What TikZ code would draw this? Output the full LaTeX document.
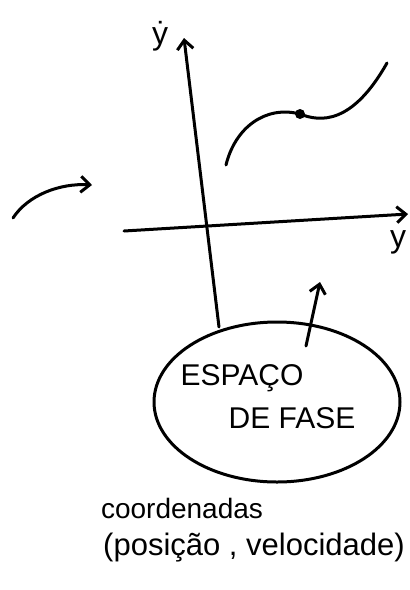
\documentclass[tikz,border=0pt]{standalone}
\usepackage{fontspec}
\setmainfont{Liberation Sans}
\usetikzlibrary{arrows.meta,shapes.geometric}
\begin{document}
\begin{tikzpicture}[x=1pt,y=-1pt,
  ink/.style={line width=3pt,line cap=round,line join=round},
  tip/.style={-{Straight Barb[length=9pt,width=16pt,line width=3pt]}},
  lbl/.style={font=\fontsize{32}{34}\selectfont},
  pstxt/.style={font=\fontsize{30}{32}\selectfont}]
\useasboundingbox (0,0) rectangle (410,590);
% phase space ellipse
\node[ink,draw,ellipse,minimum width=246pt,minimum height=160pt,inner sep=0pt] (ps) at (277,402) {};
\node[pstxt] (esp) at (242,378) {ESPAÇO};
\node[pstxt] (fase) at (292,418) {DE FASE};
% axes
\coordinate (vbot) at (219,327);
\coordinate (vtop) at (184,38);
\draw[ink,tip] (vbot) -- (vtop);
\coordinate (hleft) at (124,231);
\coordinate (hright) at (408,214);
\draw[ink,tip] (hleft) -- (hright);
\node[lbl] (ydot) at (160,36) {\.{y}};
\node[lbl] (ylab) at (398,242) {y};
% curve with point
\coordinate (c0) at (226,165);
\coordinate (cp) at (300,114);
\coordinate (c1) at (387,63);
\draw[ink] (c0) .. controls (235,128) and (265,105) .. (cp)
  .. controls (320,122) and (352,125) .. (c1);
\fill (cp) circle (5pt);
% left arrow
\coordinate (la0) at (13,218);
\coordinate (la1) at (92,185);
\draw[ink,tip] (la0) .. controls (28,195) and (60,183) .. (la1);
% arrow out of ellipse
\coordinate (ua0) at (306,346);
\coordinate (ua1) at (320,282);
\draw[ink,tip] (ua0) -- (ua1);
% captions
\node[font=\fontsize{28}{30}\selectfont] (coord) at (182,508) {coordenadas};
\node[font=\fontsize{31}{33}\selectfont] (pv) at (254,548) {(posição , velocidade)};
\end{tikzpicture}
\end{document}
